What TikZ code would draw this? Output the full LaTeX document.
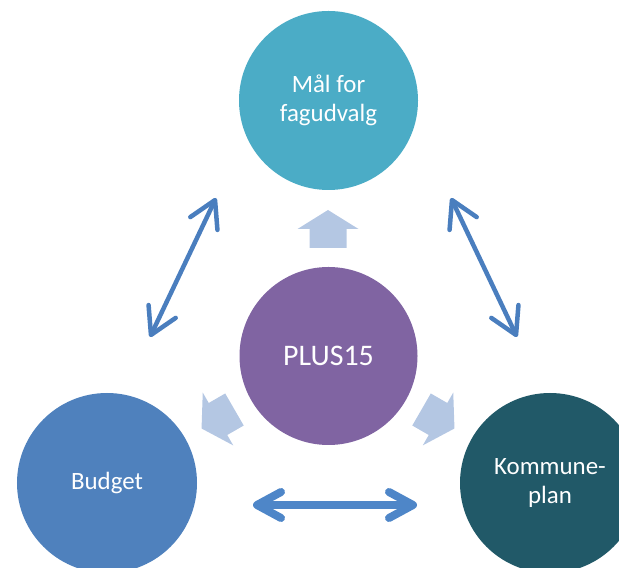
\documentclass[tikz,border=0pt]{standalone}
\usepackage{fontspec}
\setmainfont{Carlito}
\usetikzlibrary{arrows.meta}
\definecolor{cTop}{RGB}{75,172,198}
\definecolor{cMid}{RGB}{128,100,162}
\definecolor{cBud}{RGB}{79,129,189}
\definecolor{cKom}{RGB}{33,89,104}
\definecolor{cBlock}{RGB}{180,199,227}
\definecolor{cLine}{RGB}{74,126,190}
\definecolor{cLineB}{RGB}{78,134,200}
\tikzset{
  bubble/.style={circle, draw=none, minimum size=#1, inner sep=0pt, text=white, align=center,
    font=\fontsize{25}{28.5}\selectfont},
  blockarrow/.style={fill=cBlock, draw=none},
  dbl/.style={draw=cLine, line width=4.5bp, line cap=round, line join=round,
    {Straight Barb[length=26bp,width=30bp,round]}-{Straight Barb[length=26bp,width=30bp,round]}},
  dblthick/.style={draw=cLineB, line width=8bp, line cap=round, line join=round,
    {Straight Barb[length=24bp,width=26bp,round]}-{Straight Barb[length=24bp,width=26bp,round]}}
}
\begin{document}
\begin{tikzpicture}[x=1bp,y=1bp]
\useasboundingbox (0,0) rectangle (619,568);
\clip (0,0) rectangle (619,568);
% circles
\node[bubble=179bp, fill=cTop] (mal) at (328.5,467.5) {Mål for\\fagudvalg};
\node[bubble=178bp, fill=cMid, font=\fontsize{30}{34}\selectfont] (plus) at (328.5,212) {PLUS15};
\node[bubble=180bp, fill=cBud] (bud) at (107,85) {Budget};
\node[bubble=180bp, fill=cKom] (kom) at (550,85) {Kommune-\\plan};
% block arrows
\foreach \px/\py/\rot in {328/339/0, 218/149/120, 438/149/-120}{
  \fill[blockarrow, shift={(\px,\py)}, rotate=\rot]
    (0,19) -- (30.5,0) -- (18.5,0) -- (18.5,-19) -- (-18.5,-19) -- (-18.5,0) -- (-30.5,0) -- cycle;
}
% double arrows
\coordinate (l1) at (150,231);
\coordinate (l2) at (216,370);
\coordinate (r1) at (451,370);
\coordinate (r2) at (517,231);
\coordinate (b1) at (253,63);
\coordinate (b2) at (417,63);
\draw[dbl] (l1) -- (l2);
\draw[dbl] (r1) -- (r2);
\draw[dblthick] (b1) -- (b2);
\end{tikzpicture}
\end{document}
